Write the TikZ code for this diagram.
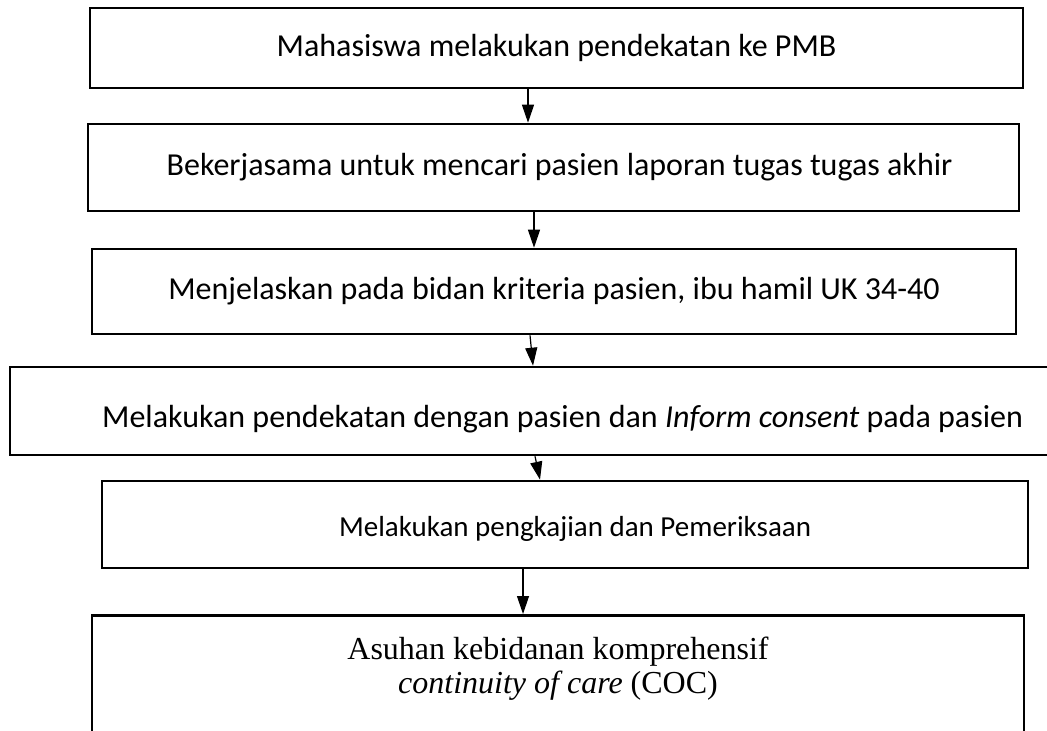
\documentclass[tikz,border=0pt]{standalone}
\usepackage{fontspec}
\setmainfont{Carlito}
\newfontfamily\timesf{Liberation Serif}
\usepackage{tikz}
\usetikzlibrary{positioning, arrows.meta, calc}

\begin{document}
\begin{tikzpicture}[x=0.5pt, y=-0.5pt,
  font=\fontsize{16}{19}\selectfont,
  bx/.style={draw=black, line width=1.3pt, inner sep=0pt, align=center},
  txt/.style={inner sep=0pt, align=center},
  arr/.style={-{Triangle[length=9pt,width=6pt]}, line width=0.6pt}]
\useasboundingbox (0,0) rectangle (1047,731);

\node[bx, minimum width=466.5pt, minimum height=40pt] (pmb) at (556.5,48) {Mahasiswa melakukan pendekatan ke PMB};
\node[bx, minimum width=465.5pt, minimum height=43.5pt] (kerja) at (553.5,167.5) {\hspace*{6pt}Bekerjasama untuk mencari pasien laporan tugas tugas akhir};
\node[bx, minimum width=462pt, minimum height=42.5pt] (jelas) at (554,291.5) {Menjelaskan pada bidan kriteria pasien, ibu hamil UK 34-40};
\node[bx, minimum width=525pt, minimum height=44pt] (dekat) at (535,411) {};
\node[txt, anchor=east] (dekattxt) at ([xshift=-19pt,yshift=-4pt]dekat.east) {Melakukan pendekatan dengan pasien dan \textit{Inform consent} pada pasien};
\node[bx, minimum width=463pt, minimum height=43.5pt] (kaji) at (565,524.5) {};
\node[txt, font=\fontsize{14.5}{17}\selectfont] (kajitxt) at ([xshift=5pt,yshift=-2pt]kaji.center) {Melakukan pengkajian dan Pemeriksaan};
\node[bx, minimum width=466pt, minimum height=80pt, anchor=north] (coc) at (558,614) {};
\node[txt, anchor=north, font=\timesf\fontsize{16}{17}\selectfont] (coctxt) at (558,637) {Asuhan kebidanan komprehensif\\\textit{continuity of care} (COC)};

\draw[arr] (pmb.south -| 528,0) -- (kerja.north -| 528,0);
\draw[arr] (kerja.south -| 534,0) -- (jelas.north -| 534,0);
\draw[arr] (jelas.south -| 530,0) -- (dekat.north -| 533,0);
\draw[arr] (dekat.south -| 535,0) -- (kaji.north -| 540,0);
\draw[arr] (kaji.south -| 523,0) -- (coc.north -| 523,0);

\end{tikzpicture}
\end{document}
